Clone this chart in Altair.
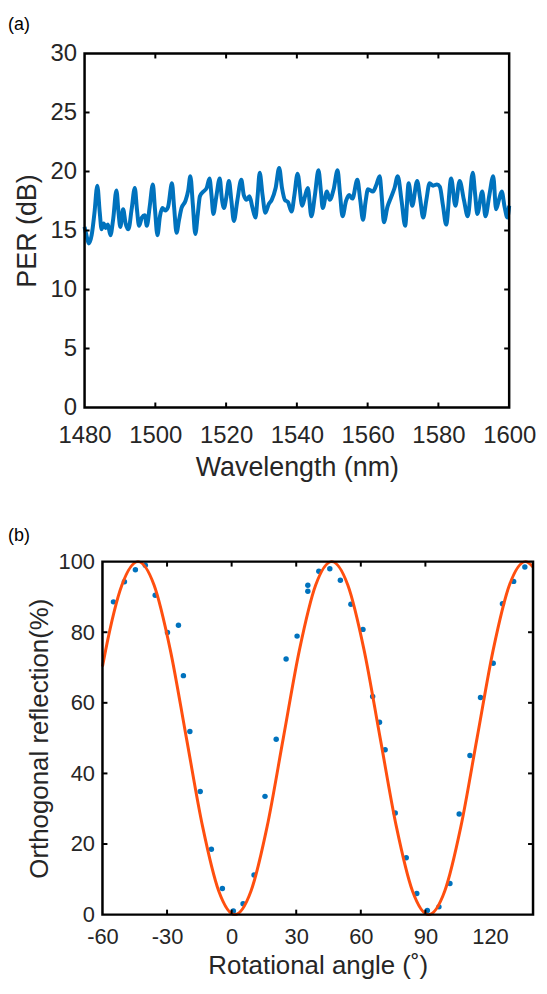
import altair as alt
import pandas as pd

# ---------------- data ----------------
wavelength = [1480.0, 1480.6, 1481.2, 1482.0, 1482.8, 1483.6, 1484.3, 1484.8, 1485.4, 1486.0,
              1486.6, 1487.3, 1488.1, 1489.0, 1489.6, 1490.1, 1490.9, 1491.6, 1492.4, 1493.3,
              1494.2, 1494.8, 1495.4, 1496.2, 1497.0, 1497.6, 1498.4, 1499.3, 1499.9, 1500.6,
              1501.3, 1502.0, 1502.8, 1503.6, 1504.7, 1505.3, 1506.0, 1506.7, 1507.4, 1508.5,
              1509.3, 1509.9, 1510.6, 1511.3, 1512.0, 1512.6, 1513.6, 1514.5, 1515.3, 1515.9,
              1516.4, 1517.2, 1518.2, 1518.8, 1519.4, 1520.1, 1520.8, 1521.5, 1522.2, 1523.2,
              1524.3, 1525.0, 1525.8, 1526.6, 1527.4, 1528.3, 1528.9, 1529.5, 1530.3, 1531.1,
              1532.0, 1532.9, 1534.0, 1535.0, 1535.8, 1536.6, 1537.5, 1538.5, 1539.3, 1540.2,
              1541.5, 1542.3, 1543.1, 1544.1, 1545.1, 1546.1, 1546.8, 1547.3, 1548.5, 1549.3,
              1550.4, 1551.5, 1552.2, 1552.9, 1553.9, 1554.8, 1555.7, 1557.1, 1557.9, 1558.7,
              1559.4, 1560.1, 1561.5, 1562.5, 1563.4, 1564.0, 1564.6, 1565.6, 1566.6, 1567.6,
              1568.5, 1569.6, 1570.6, 1571.6, 1572.6, 1574.0, 1574.8, 1575.7, 1576.6, 1577.5,
              1578.5, 1579.6, 1580.4, 1581.3, 1582.2, 1583.6, 1584.8, 1586.0, 1587.2, 1588.3,
              1589.7, 1590.4, 1591.0, 1592.4, 1593.3, 1594.4, 1595.5, 1596.3, 1597.1, 1597.9,
              1598.7, 1599.5, 1600.0]
per_db = [15.3, 14.5, 13.9, 14.6, 16.5, 18.8, 16.5, 15.1, 15.6, 15.2,
          15.5, 14.6, 16.0, 18.4, 16.5, 15.3, 16.8, 15.6, 15.1, 16.8,
          18.6, 16.8, 15.4, 16.1, 16.3, 15.4, 17.0, 18.9, 16.8, 14.6,
          16.2, 16.9, 16.7, 17.0, 19.0, 17.0, 14.8, 15.9, 16.9, 17.5,
          18.4, 19.6, 17.2, 14.7, 16.4, 17.9, 18.3, 18.6, 19.4, 17.9,
          16.4, 17.8, 19.4, 17.7, 16.9, 17.9, 19.2, 17.5, 15.8, 17.6,
          19.3, 18.0, 17.6, 17.9, 17.0, 16.1, 17.9, 19.9, 18.0, 16.5,
          17.2, 17.6, 18.6, 20.3, 18.6, 17.6, 17.4, 16.6, 18.0, 19.8,
          17.1, 17.9, 18.6, 16.2, 18.0, 20.1, 18.3, 16.9, 18.3, 17.6,
          18.5, 20.1, 18.1, 16.2, 17.5, 18.0, 17.7, 19.3, 17.6, 15.9,
          17.4, 18.5, 18.3, 18.9, 19.6, 17.8, 15.7, 17.0, 17.8, 18.6,
          19.6, 17.5, 15.4, 19.0, 17.1, 19.2, 17.8, 16.1, 17.6, 19.0,
          18.8, 18.9, 18.7, 17.1, 15.5, 19.4, 17.1, 19.2, 17.6, 16.2,
          19.9, 18.0, 16.4, 18.3, 16.2, 18.0, 19.6, 16.8, 17.6, 18.3,
          17.0, 16.1, 17.1]

angle_meas = [-54.9, -49.8, -44.7, -40.1, -35.5, -29.8, -24.7, -22.4, -19.4, -14.6,
              -9.4, -4.3, 0.8, 5.3, 10.4, 15.5, 20.7, 25.3, 30.4, 35.4,
              35.4, 40.5, 45.6, 50.5, 55.4, 61.0, 65.5, 68.7, 71.3, 76.0,
              81.1, 86.0, 90.9, 96.3, 101.4, 105.7, 110.7, 115.6, 121.5, 125.8,
              131.0, 136.2]
refl_meas = [88.6, 94.3, 97.7, 99.0, 90.5, 79.9, 82.0, 67.7, 51.9, 34.9,
             18.5, 7.4, 1.0, 3.1, 11.2, 33.5, 49.7, 72.4, 78.9, 93.3,
             91.6, 97.3, 98.0, 94.7, 87.9, 80.8, 61.8, 54.5, 46.7, 28.8,
             16.1, 6.0, 1.2, 2.2, 8.8, 28.5, 45.1, 61.5, 71.2, 88.1,
             94.4, 98.5]

angle_fit = [-60.0, -58.5, -51.0, -43.5, -36.0, -28.5, -21.0, -13.5, -6.0, 1.5,
             9.0, 16.5, 24.0, 31.5, 39.0, 46.5, 54.0, 61.5, 69.0, 76.5,
             84.0, 91.5, 99.0, 106.5, 114.0, 121.5, 129.0, 136.5, 140.0]
refl_fit = [70.3, 75.0, 93.3, 100.0, 93.3, 75.0, 50.0, 25.0, 6.7, 0.0,
            6.7, 25.0, 50.0, 75.0, 93.3, 100.0, 93.3, 75.0, 50.0, 25.0,
            6.7, 0.0, 6.7, 25.0, 50.0, 75.0, 93.3, 100.0, 98.5]

top_x_ticks = [1480, 1500, 1520, 1540, 1560, 1580, 1600]
top_y_ticks = [0, 5, 10, 15, 20, 25, 30]
bot_x_ticks = [-60, -30, 0, 30, 60, 90, 120]
bot_y_ticks = [0, 20, 40, 60, 80, 100]

# ---------------- style ----------------
FONT = "Liberation Sans"
TXT = "#262626"
BLUE = "#0072BD"
ORANGE = "#FF4F0F"
TL = 5      # inner tick length (px)
SHIFT = 18  # panel (b) frame starts this many px right of panel (a) frame


def axis(vals, lsize, tsize, lpad, tpad, expr=None, offset=0):
    kw = dict(values=vals, labelFontSize=lsize, titleFontSize=tsize, labelPadding=lpad,
              titlePadding=tpad, labelFlush=False, labelOverlap=False, format="d")
    if expr:
        kw["labelExpr"] = expr
    if offset:
        kw["offset"] = offset
    return alt.Axis(**kw)


def frame_and_ticks(xt, yt, xenc, yenc, x0, x1, H):
    """Box frame plus inward tick marks on all four sides, through the panel's own scales."""
    xdf = pd.DataFrame({"v": xt[1:-1]})
    ydf = pd.DataFrame({"v": yt[1:-1]})
    base_x = alt.Chart(xdf).mark_rule(color="black", strokeWidth=2)
    base_y = alt.Chart(ydf).mark_rule(color="black", strokeWidth=2)
    frame = alt.Chart(pd.DataFrame({"k": [0]})).mark_rect(
        fill=None, stroke="black", strokeWidth=2.5
    ).encode(x=alt.value(x0), x2=alt.value(x1), y=alt.value(0), y2=alt.value(H))
    return [
        base_x.encode(x=xenc("v"), y=alt.value(H), y2=alt.value(H - TL)),
        base_x.encode(x=xenc("v"), y=alt.value(0), y2=alt.value(TL)),
        base_y.encode(y=yenc("v"), x=alt.value(x0), x2=alt.value(x0 + TL)),
        base_y.encode(y=yenc("v"), x=alt.value(x1), x2=alt.value(x1 - TL)),
        frame,
    ]


def panel_label(text, dx, dy):
    return alt.Chart(pd.DataFrame({"t": [text]})).mark_text(
        align="left", baseline="middle", fontSize=18, font=FONT, color="black"
    ).encode(text="t:N", x=alt.value(dx), y=alt.value(dy))


# ---------------- panel (a) ----------------
W1, H1 = 427, 356
sx1 = alt.Scale(domain=[1480, 1600], nice=False, zero=False)
sy1 = alt.Scale(domain=[0, 30], nice=False)
ax1x = axis(top_x_ticks, 24, 27, 16, 7)
ax1y = axis(top_y_ticks, 24, 27, 8, 9)


def xa(f):
    return alt.X(f"{f}:Q", scale=sx1, title="Wavelength (nm)", axis=ax1x)


def ya(f):
    return alt.Y(f"{f}:Q", scale=sy1, title="PER (dB)", axis=ax1y)


df_a = pd.DataFrame({"wl": wavelength, "per": per_db})
line_a = alt.Chart(df_a).mark_line(color=BLUE, strokeWidth=4, strokeJoin="round",
                                   interpolate="monotone").encode(x=xa("wl"), y=ya("per"))

chart_a = alt.layer(
    line_a, *frame_and_ticks(top_x_ticks, top_y_ticks, xa, ya, 0, W1, H1),
    panel_label("(a)", -77, -29),
).properties(width=W1, height=H1)

# ---------------- panel (b) ----------------
W2, H2 = 433, 355
sx2 = alt.Scale(domain=[-60, 140], nice=False, zero=False, range=[SHIFT, SHIFT + W2])
sy2 = alt.Scale(domain=[0, 100], nice=False)
ax2x = axis(bot_x_ticks, 22, 26, 12, 5, expr="'' + datum.value")
ax2y = axis(bot_y_ticks, 22, 26, 8, 6, offset=-SHIFT)


def xb(f):
    return alt.X(f"{f}:Q", scale=sx2, title="Rotational angle (˚)", axis=ax2x)


def yb(f):
    return alt.Y(f"{f}:Q", scale=sy2, title="Orthogonal reflection(%)", axis=ax2y)


df_fit = pd.DataFrame({"ang": angle_fit, "r": refl_fit})
df_pts = pd.DataFrame({"ang": angle_meas, "r": refl_meas})

pts_b = alt.Chart(df_pts).mark_circle(color=BLUE, size=30, opacity=1).encode(
    x=xb("ang"), y=yb("r"))
fit_b = alt.Chart(df_fit).mark_line(color=ORANGE, strokeWidth=3, interpolate="monotone").encode(
    x=xb("ang"), y=yb("r"))

chart_b = alt.layer(
    pts_b, fit_b, *frame_and_ticks(bot_x_ticks, bot_y_ticks, xb, yb, SHIFT, SHIFT + W2, H2),
    panel_label("(b)", -77, -26),
).properties(width=SHIFT + W2, height=H2)

chart = alt.vconcat(chart_a, chart_b, spacing=47).properties(
    padding={"left": 0, "top": 5, "right": 0, "bottom": 0}
).configure_view(
    stroke=None
).configure_axis(
    labelFont=FONT, labelColor=TXT,
    titleFont=FONT, titleColor=TXT, titleFontWeight="normal",
    grid=False, ticks=False, domain=False,
)

chart.save("out.html", embed_options={"renderer": "svg", "actions": False})
